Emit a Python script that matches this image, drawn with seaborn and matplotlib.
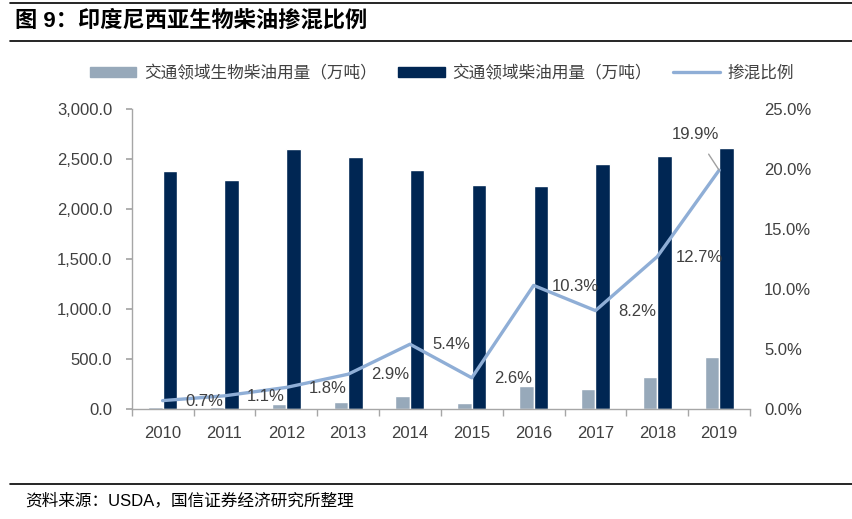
import matplotlib
matplotlib.use("Agg")
import matplotlib.pyplot as plt
import matplotlib.patches as mpatches
import matplotlib.lines as mlines
import seaborn as sns
import pandas as pd
import numpy as np

# --- datos ---
anios = ['2010', '2011', '2012', '2013', '2014', '2015', '2016', '2017', '2018', '2019']
diesel_total = [2383, 2290, 2597, 2517, 2393, 2237, 2230, 2450, 2530, 2607]
biodiesel = [17, 25, 47, 73, 129, 58, 230, 201, 321, 519]
mezcla = [0.7, 1.1, 1.8, 2.9, 5.4, 2.6, 10.3, 8.2, 12.7, 19.9]
etiquetas_mezcla = ['0.7%', '1.1%', '1.8%', '2.9%', '5.4%', '2.6%', '10.3%', '8.2%', '12.7%', '19.9%']

serie_bio = '交通领域生物柴油用量（万吨）'
serie_total = '交通领域柴油用量（万吨）'
serie_mezcla = '掺混比例'

c_gris = '#97A9BA'
c_azul = '#002653'
c_linea = '#8FAED6'
c_texto = '#404040'

sns.set_theme(style='white')
plt.rcParams['font.family'] = ['Liberation Sans', 'Noto Sans CJK SC', 'DejaVu Sans']
plt.rcParams['axes.unicode_minus'] = False

df = pd.DataFrame({
    'anio': anios * 2,
    'valor': biodiesel + diesel_total,
    'serie': [serie_bio] * len(anios) + [serie_total] * len(anios),
})

fig = plt.figure(figsize=(8.53, 5.19), dpi=100)
ax = fig.add_axes([0.1544, 0.2119, 0.8793 - 0.1544, 0.79 - 0.2119])

sns.barplot(data=df, x='anio', y='valor', hue='serie', hue_order=[serie_bio, serie_total],
            palette=[c_gris, c_azul], width=0.47, gap=0, saturation=1, ax=ax, legend=False)
ax.set_xlim(-0.5, len(anios) - 0.5)
ax.set_ylim(0, 3000)
ax.set_yticks(np.arange(0, 3001, 500))
ax.set_yticklabels([f'{v:,.1f}' for v in np.arange(0, 3001, 500)])
ax.set_xlabel('')
ax.set_ylabel('')

for lado in ['top', 'right']:
    ax.spines[lado].set_visible(False)
for lado in ['left', 'bottom']:
    ax.spines[lado].set_color('#A6A6A6')
    ax.spines[lado].set_linewidth(1.0)

ax.tick_params(axis='y', left=True, length=4, color='#A6A6A6', pad=10, labelsize=12, labelcolor=c_texto)
ax.tick_params(axis='x', bottom=False, pad=6, labelsize=12, labelcolor=c_texto)
ax.set_xticks(np.arange(-0.5, len(anios), 1), minor=True)
ax.tick_params(axis='x', which='minor', bottom=True, length=5, color='#A6A6A6')

ax2 = ax.twinx()
sns.lineplot(x=np.arange(len(anios)), y=mezcla, color=c_linea, linewidth=2.4, ax=ax2)
ax2.set_ylim(0, 25)
ax2.set_yticks(np.arange(0, 26, 5))
ax2.set_yticklabels([f'{v:.1f}%' for v in np.arange(0, 26, 5)])
for lado in ['top', 'right', 'left', 'bottom']:
    ax2.spines[lado].set_visible(False)
ax2.tick_params(axis='y', right=False, pad=4, labelsize=12, labelcolor=c_texto)
ax2.set_xlim(-0.5, len(anios) - 0.5)

for i, (v, t) in enumerate(zip(mezcla, etiquetas_mezcla)):
    if i == len(anios) - 1:
        ax2.annotate(t, xy=(i, v), xytext=(-17, 26), textcoords='offset points',
                     ha='center', va='center', fontsize=12, color=c_texto,
                     arrowprops=dict(arrowstyle='-', color='#A0A0A0', lw=1, shrinkA=8, shrinkB=0))
    else:
        ax2.annotate(t, xy=(i, v), xytext=(30, -0.5), textcoords='offset points',
                     ha='center', va='center', fontsize=12, color=c_texto)

# leyenda
h1 = mpatches.Patch(color=c_gris, label=serie_bio)
h2 = mpatches.Patch(color=c_azul, label=serie_total)
h3 = mlines.Line2D([], [], color=c_linea, linewidth=2.4, label=serie_mezcla)
fig.legend(handles=[h1, h2, h3], loc='center', bbox_to_anchor=(0.518, 1 - 73 / 519), ncol=3,
           frameon=False, fontsize=12, handlelength=2.8, handleheight=0.6,
           columnspacing=1.3, handletextpad=0.45, labelcolor=c_texto)

# titulo y pie
fig.text(15 / 853, 1 - 21 / 519, '图 9：印度尼西亚生物柴油掺混比例', fontsize=16, fontweight='bold',
         ha='left', va='center', color='black')
fig.add_artist(mlines.Line2D([10 / 853, 1], [1 - 3 / 519] * 2, color='black', lw=1.2))
fig.add_artist(mlines.Line2D([10 / 853, 1], [1 - 41 / 519] * 2, color='black', lw=1.2))
fig.add_artist(mlines.Line2D([10 / 853, 1], [1 - 484 / 519] * 2, color='black', lw=1.2))
fig.text(25 / 853, 1 - 500 / 519, '资料来源：USDA，国信证券经济研究所整理', fontsize=12,
         ha='left', va='center', color='black')

fig.savefig('out.png', dpi=100)
